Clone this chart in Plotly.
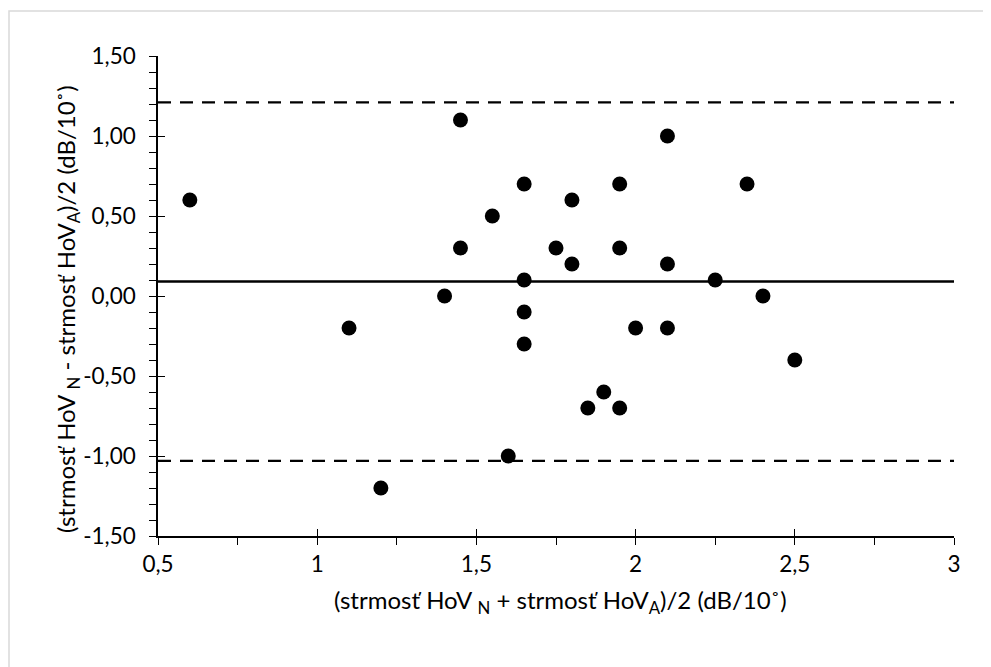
import plotly.graph_objects as go

# ---- data ----
x_mean = [0.6, 1.1, 1.2, 1.4, 1.45, 1.45, 1.55, 1.6, 1.65, 1.65, 1.65, 1.65, 1.75, 1.8,
          1.8, 1.85, 1.9, 1.95, 1.95, 1.95, 2.0, 2.1, 2.1, 2.1, 2.25, 2.35, 2.4, 2.5]
y_diff = [0.6, -0.2, -1.2, 0.0, 1.1, 0.3, 0.5, -1.0, 0.7, 0.1, -0.1, -0.3, 0.3, 0.6,
          0.2, -0.7, -0.6, 0.7, 0.3, -0.7, -0.2, 1.0, 0.2, -0.2, 0.1, 0.7, 0.0, -0.4]

line_x = [0.5, 3.0]
mean_diff = 0.09
upper_loa = 1.21
lower_loa = -1.03

x_tick_vals = [0.5, 1.0, 1.5, 2.0, 2.5, 3.0]
x_tick_labels = ["0,5", "1", "1,5", "2", "2,5", "3"]
y_tick_vals = [-1.5, -1.0, -0.5, 0.0, 0.5, 1.0, 1.5]
y_tick_labels = ["-1,50", "-1,00", "-0,50", "0,00", "0,50", "1,00", "1,50"]

x_title = "(strmosť HoV <sub>N</sub> + strmosť HoV<sub>A</sub>)/2 (dB/10˚)"
y_title = "(strmosť HoV <sub>N</sub> - strmosť HoV<sub>A</sub>)/2 (dB/10˚)"

FONT = "Lato"
W, H = 991, 667
# the page body has an 8 px margin, so the figure is offset by (8, 8)
OFF = 8
ML, MR, MT, MB = 158 - OFF, 37 + OFF, 56 - OFF, 131 + OFF
pw = W - ML - MR
ph = H - MT - MB

fig = go.Figure()

fig.add_trace(go.Scatter(x=line_x, y=[upper_loa, upper_loa], mode="lines",
                         line=dict(color="black", width=2.2, dash="13px,9px"),
                         showlegend=False, hoverinfo="skip"))
fig.add_trace(go.Scatter(x=line_x, y=[lower_loa, lower_loa], mode="lines",
                         line=dict(color="black", width=2.2, dash="13px,9px"),
                         showlegend=False, hoverinfo="skip"))
fig.add_trace(go.Scatter(x=line_x, y=[mean_diff, mean_diff], mode="lines",
                         line=dict(color="black", width=2.5),
                         showlegend=False, hoverinfo="skip"))
fig.add_trace(go.Scatter(x=x_mean, y=y_diff, mode="markers",
                         marker=dict(color="black", size=15, symbol="circle"),
                         showlegend=False))
# invisible trace to activate the overlay axes (inside halves of the crossing ticks)
fig.add_trace(go.Scatter(x=[], y=[], xaxis="x2", yaxis="y2", showlegend=False))

TICKFONT = dict(size=22.5, family=FONT, color="black")

fig.update_layout(
    width=W, height=H,
    margin=dict(l=ML, r=MR, t=MT, b=MB),
    paper_bgcolor="white", plot_bgcolor="white",
    font=dict(family=FONT, color="black", size=22),
    xaxis=dict(
        range=[0.5, 3.0], tickmode="array", tickvals=x_tick_vals, ticktext=x_tick_labels,
        showgrid=False, zeroline=False, showline=True, linecolor="black", linewidth=1.5,
        ticks="outside", ticklen=7, tickwidth=1.3, tickcolor="black",
        ticklabelstandoff=0,
        minor=dict(tickmode="linear", tick0=0.5, dtick=0.25, ticks="outside", ticklen=7,
                   tickwidth=1.3, tickcolor="black", showgrid=False),
        tickfont=TICKFONT,
    ),
    yaxis=dict(
        range=[-1.5, 1.5], tickmode="array", tickvals=y_tick_vals, ticktext=y_tick_labels,
        showgrid=False, zeroline=False, showline=True, linecolor="black", linewidth=1.5,
        ticks="outside", ticklen=7, tickwidth=1.3, tickcolor="black",
        ticklabelstandoff=9,
        minor=dict(tickmode="linear", tick0=-1.5, dtick=0.1, ticks="outside", ticklen=7,
                   tickwidth=1.3, tickcolor="black", showgrid=False),
        tickfont=TICKFONT,
    ),
    xaxis2=dict(
        range=[0.5, 3.0], overlaying="x", anchor="y", side="bottom",
        tickmode="array", tickvals=x_tick_vals, showticklabels=False,
        ticks="inside", ticklen=7, tickwidth=1.3, tickcolor="black",
        showgrid=False, zeroline=False, showline=False,
    ),
    yaxis2=dict(
        range=[-1.5, 1.5], overlaying="y", anchor="x", side="left",
        tickmode="array", tickvals=y_tick_vals, showticklabels=False,
        ticks="inside", ticklen=7, tickwidth=1.3, tickcolor="black",
        showgrid=False, zeroline=False, showline=False,
    ),
)

# axis titles as annotations, placed where the reference has them
TITLEFONT = dict(size=24, family=FONT, color="black")
fig.add_annotation(text=x_title, xref="paper", yref="paper",
                   x=0.5 + 4 / pw, y=(H - MB - (601 - OFF)) / ph,
                   xanchor="center", yanchor="middle", showarrow=False,
                   font=TITLEFONT)
fig.add_annotation(text=y_title, xref="paper", yref="paper",
                   x=((67 - OFF) - ML) / pw, y=(H - MB - (309 - OFF)) / ph,
                   xanchor="center", yanchor="middle", textangle=-90, showarrow=False,
                   font=TITLEFONT)

# chart-area border (light grey frame, running off the right and bottom edges)
bx0 = ((9 - OFF) - ML) / pw
by1 = (H - MB - (11 - OFF)) / ph
fig.add_shape(type="rect", xref="paper", yref="paper",
              x0=bx0, x1=1.3, y0=-0.6, y1=by1,
              line=dict(color="#d9d9d9", width=1.5), fillcolor="rgba(0,0,0,0)", layer="below")

fig.write_html("out.html")
